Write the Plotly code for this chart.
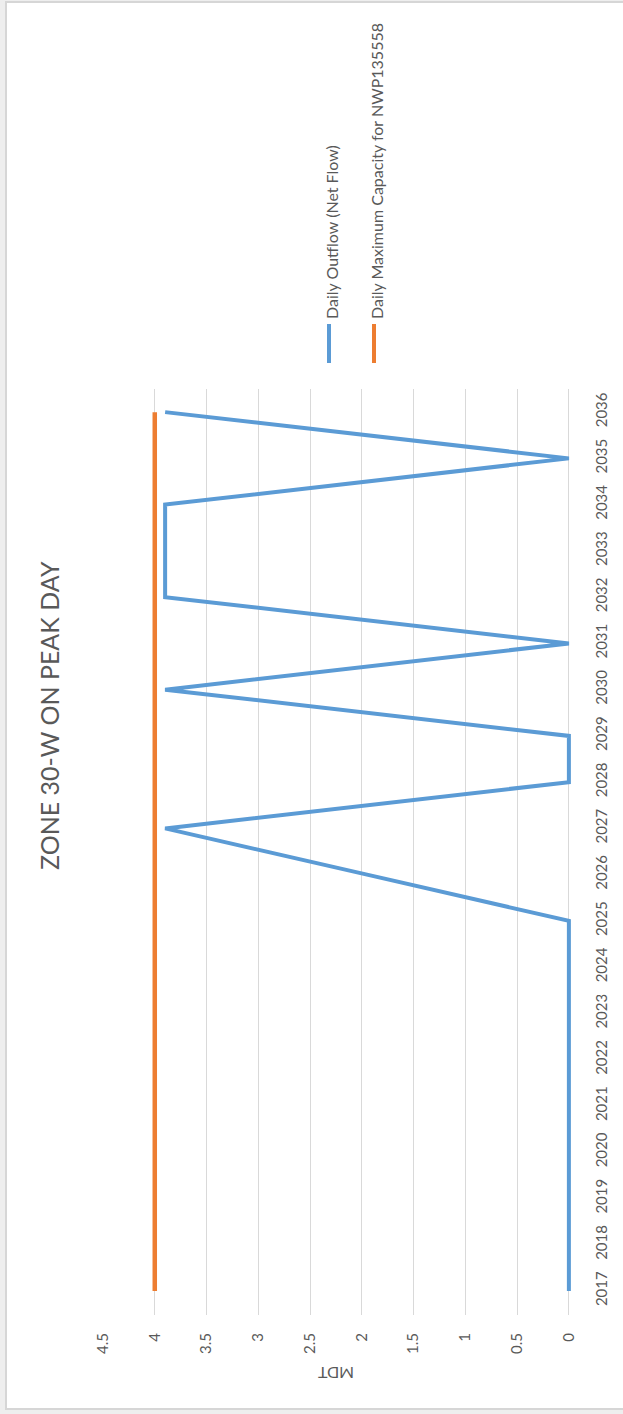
import plotly.graph_objects as go

# Years on the category axis and the two series (MDT)
years = list(range(2017, 2037))
outflow = [0, 0, 0, 0, 0, 0, 0, 0, 0, 1.95, 3.9, 0, 0, 3.9, 0, 3.9, 3.9, 3.9, 0, 3.9]
capacity = [4] * len(years)
value_ticks = [0, 0.5, 1, 1.5, 2, 2.5, 3, 3.5, 4, 4.5]

series_names = ["Daily Outflow (Net Flow)", "Daily Maximum Capacity for NWP135558"]
series_colors = ["#5B9BD5", "#ED7D31"]

W_PX, H_PX = 623, 1414
L, R, T, B = 103, 572, 389, 1315
FONT = "Lato"
GREY = "#595959"


def px(x):
    return (x - L) / (R - L)


def py(y):
    return (B - y) / (B - T)


fig = go.Figure()
fig.add_trace(go.Scatter(x=outflow, y=years, mode="lines",
                         line=dict(color=series_colors[0], width=4),
                         name=series_names[0]))
fig.add_trace(go.Scatter(x=capacity, y=years, mode="lines",
                         line=dict(color=series_colors[1], width=4.5),
                         name=series_names[1]))

shapes = [
    # chart frame
    dict(type="rect", xref="paper", yref="paper",
         x0=px(6), x1=px(640), y0=py(2), y1=py(1409),
         fillcolor="white", line=dict(color="#d6d6d6", width=2), layer="below"),
]
annotations = [
    dict(text="ZONE 30-W ON PEAK DAY", textangle=-90, showarrow=False,
         xref="paper", yref="paper", x=px(49), y=py(716),
         xanchor="center", yanchor="middle",
         font=dict(family=FONT, size=25, color=GREY)),
    dict(text="MDT", textangle=180, showarrow=False,
         xref="paper", yref="paper", x=px(336), y=py(1374),
         xanchor="center", yanchor="middle",
         font=dict(family=FONT, size=16, color=GREY)),
]

# vertical legend entries
for i, (nm, col) in enumerate(zip(series_names, series_colors)):
    lx = [329, 374][i]
    shapes.append(dict(type="line", xref="paper", yref="paper",
                       x0=px(lx), x1=px(lx), y0=py(324), y1=py(363),
                       line=dict(color=col, width=4)))
    annotations.append(dict(text=nm, textangle=-90, showarrow=False,
                            xref="paper", yref="paper", x=px(lx + 2), y=py(321),
                            xanchor="center", yanchor="bottom",
                            font=dict(family=FONT, size=16, color=GREY)))

fig.update_layout(
    width=W_PX, height=H_PX,
    margin=dict(l=L, r=W_PX - R, t=T, b=H_PX - B, pad=0),
    paper_bgcolor="#eeeeee", plot_bgcolor="rgba(0,0,0,0)",
    showlegend=False,
    shapes=shapes, annotations=annotations,
    xaxis=dict(range=[4.5, -0.03], tickvals=value_ticks,
               ticktext=[f"{v:g}" for v in value_ticks],
               tickangle=-90, showgrid=True, gridcolor="#d9d9d9", gridwidth=1,
               zeroline=False, showline=False,
               ticklabelstandoff=14,
               tickfont=dict(family=FONT, size=15, color=GREY)),
    yaxis=dict(range=[2016.48, 2036.5], tickvals=years,
               ticktext=[str(y) for y in years], side="right",
               tickangle=-90, showgrid=False, zeroline=False, showline=False,
               ticklabelstandoff=19,
               tickfont=dict(family=FONT, size=15, color=GREY)),
)

fig.write_html("out.html")
